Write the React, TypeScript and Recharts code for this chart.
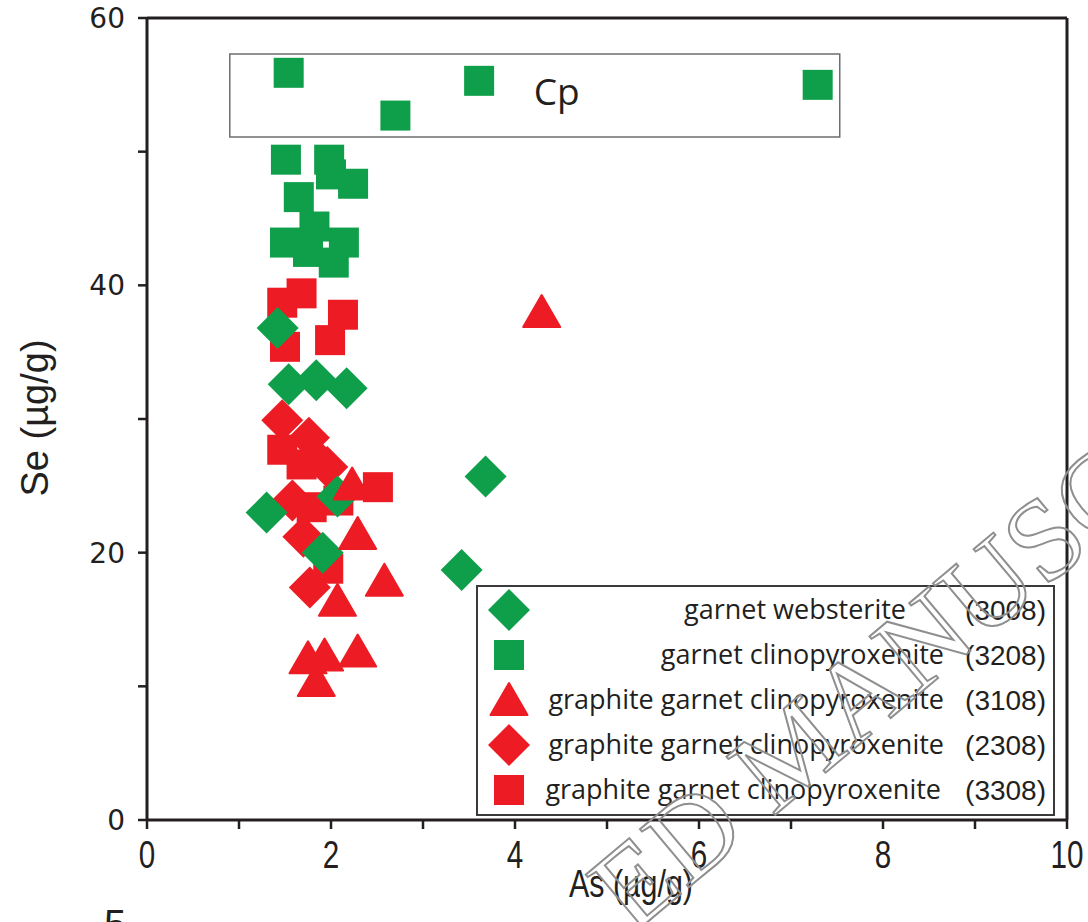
import {
  Legend,
  ReferenceArea,
  ReferenceLine,
  Scatter,
  ScatterChart,
  XAxis,
  YAxis,
} from 'recharts'

// As (µg/g) vs Se (µg/g), one array per sample
const X_TICKS = [0, 1, 2, 3, 4, 5, 6, 7, 8, 9, 10]
const Y_TICKS = [0, 10, 20, 30, 40, 50, 60]

const websterite3008 = [
  { x: 1.42, y: 36.8 },
  { x: 1.54, y: 32.6 },
  { x: 1.84, y: 32.9 },
  { x: 2.17, y: 32.3 },
  { x: 1.3, y: 23.0 },
  { x: 2.07, y: 24.2 },
  { x: 1.91, y: 20.0 },
  { x: 3.68, y: 25.7 },
  { x: 3.42, y: 18.7 },
]

const clinopyroxenite3208 = [
  { x: 1.54, y: 55.9 },
  { x: 2.7, y: 52.7 },
  { x: 3.61, y: 55.3 },
  { x: 7.29, y: 55.0 },
  { x: 1.51, y: 49.4 },
  { x: 1.98, y: 49.4 },
  { x: 2.0, y: 48.3 },
  { x: 2.24, y: 47.6 },
  { x: 1.65, y: 46.6 },
  { x: 1.82, y: 44.4 },
  { x: 1.5, y: 43.2 },
  { x: 1.75, y: 42.5 },
  { x: 2.03, y: 41.7 },
  { x: 2.14, y: 43.2 },
]

const graphite3108 = [
  { x: 4.29, y: 38.0 },
  { x: 2.23, y: 25.1 },
  { x: 2.29, y: 21.4 },
  { x: 2.07, y: 16.4 },
  { x: 2.58, y: 17.9 },
  { x: 1.75, y: 12.1 },
  { x: 1.93, y: 12.3 },
  { x: 2.29, y: 12.6 },
  { x: 1.84, y: 10.4 },
]

const graphite2308 = [
  { x: 1.47, y: 29.9 },
  { x: 1.76, y: 28.6 },
  { x: 1.82, y: 27.2 },
  { x: 1.96, y: 26.4 },
  { x: 1.58, y: 23.9 },
  { x: 1.7, y: 21.2 },
  { x: 1.77, y: 17.4 },
]

const graphite3308 = [
  { x: 1.68, y: 39.4 },
  { x: 1.47, y: 38.7 },
  { x: 2.13, y: 37.8 },
  { x: 1.99, y: 35.9 },
  { x: 1.5, y: 35.4 },
  { x: 1.47, y: 27.7 },
  { x: 1.68, y: 26.6 },
  { x: 2.51, y: 24.9 },
  { x: 1.79, y: 23.4 },
  { x: 2.08, y: 23.9 },
  { x: 1.97, y: 18.8 },
]

const GREEN = '#0f9f4a'
const RED = '#ed1c24'
const INK = '#231f20'

type ShapeKind = 'diamond' | 'square' | 'triangle'

const SERIES: {
  name: string
  code: string
  color: string
  shape: ShapeKind
  data: { x: number; y: number }[]
}[] = [
  { name: 'garnet websterite', code: '(3008)', color: GREEN, shape: 'diamond', data: websterite3008 },
  { name: 'garnet clinopyroxenite', code: '(3208)', color: GREEN, shape: 'square', data: clinopyroxenite3208 },
  { name: 'graphite garnet clinopyroxenite', code: '(3108)', color: RED, shape: 'triangle', data: graphite3108 },
  { name: 'graphite garnet clinopyroxenite', code: '(2308)', color: RED, shape: 'diamond', data: graphite2308 },
  { name: 'graphite garnet clinopyroxenite', code: '(3308)', color: RED, shape: 'square', data: graphite3308 },
]

// paint order in the plot (bottom first)
const DRAW_ORDER = [4, 1, 3, 0, 2]

function Marker({ cx = 0, cy = 0, fill, kind }: { cx?: number; cy?: number; fill: string; kind: ShapeKind }) {
  if (kind === 'square') {
    return <rect x={cx - 15} y={cy - 15} width={30} height={30} fill={fill} />
  }
  if (kind === 'diamond') {
    const r = 21
    return <polygon points={`${cx},${cy - r} ${cx + r},${cy} ${cx},${cy + r} ${cx - r},${cy}`} fill={fill} />
  }
  return (
    <polygon
      points={`${cx},${cy - 17} ${cx + 18.5},${cy + 15} ${cx - 18.5},${cy + 15}`}
      fill={fill}
      stroke={fill}
      strokeLinejoin="round"
      strokeWidth={2}
    />
  )
}

// the source figure is squeezed sideways, so x-axis text is narrowed
function XTick({ x, y, payload }: { x?: number; y?: number; payload?: { value: number } }) {
  if (!payload || payload.value % 2 !== 0) return null
  return (
    <text
      transform={`translate(${x} ${(y ?? 0) + 33}) scale(0.78 1)`}
      textAnchor="middle"
      fontSize={38}
      fontFamily="'Liberation Sans', sans-serif"
      fill={INK}
    >
      {payload.value}
    </text>
  )
}

const LEGEND_ROWS_Y = [25, 70, 115, 160, 205]
const LEGEND_TEXT_END = [430, 468, 468, 468, 465]

function LegendBox() {
  return (
    <svg width={580} height={232} style={{ display: 'block' }}>
      <rect x={1} y={1} width={577} height={229} fill="#fff" stroke="#3a3a3a" strokeWidth={2} />
      {SERIES.map((s, i) => (
        <g key={s.code}>
          <Marker cx={33} cy={LEGEND_ROWS_Y[i]} fill={s.color} kind={s.shape} />
          <text
            x={LEGEND_TEXT_END[i]}
            y={LEGEND_ROWS_Y[i] + 9}
            textAnchor="end"
            fontSize={27}
            fontFamily="'Open Sans', sans-serif"
            fill={INK}
          >
            {s.name}
          </text>
          <text
            x={570}
            y={LEGEND_ROWS_Y[i] + 10}
            textAnchor="end"
            fontSize={28}
            fontFamily="'Liberation Sans', sans-serif"
            fill={INK}
          >
            {s.code}
          </text>
        </g>
      ))}
    </svg>
  )
}

export default function App() {
  return (
    <div style={{ position: 'absolute', left: 0, top: 0, width: 1088, height: 922, background: '#fff' }}>
      <ScatterChart width={1088} height={922} margin={{ top: 18, right: 21, bottom: 0, left: 0 }}>
        <XAxis
          type="number"
          dataKey="x"
          domain={[0, 10]}
          ticks={X_TICKS}
          interval={0}
          height={102}
          tickSize={9}
          tickMargin={6}
          axisLine={{ stroke: INK, strokeWidth: 3 }}
          tickLine={{ stroke: INK, strokeWidth: 2.5 }}
          tick={<XTick />}
          label={() => (
            <text
              transform="translate(631 897) scale(0.8 1)"
              textAnchor="middle"
              fontSize={38}
              fontFamily="'Liberation Sans', sans-serif"
              fill={INK}
            >
              As (µg/g)
            </text>
          )}
        />
        <YAxis
          type="number"
          dataKey="y"
          domain={[0, 60]}
          ticks={Y_TICKS}
          interval={0}
          width={147}
          tickSize={9}
          tickMargin={13}
          axisLine={{ stroke: INK, strokeWidth: 3 }}
          tickLine={{ stroke: INK, strokeWidth: 2.5 }}
          tick={{ fontFamily: "'DejaVu Sans', sans-serif", fontSize: 28, fill: INK }}
          tickFormatter={(v: number) => (v % 20 === 0 ? String(v) : '')}
          label={() => (
            <text
              x={48}
              y={418}
              transform="rotate(-90 48 418)"
              textAnchor="middle"
              fontSize={38}
              fontFamily="'Liberation Sans', sans-serif"
              fill={INK}
            >
              Se (µg/g)
            </text>
          )}
        />
        <ReferenceLine y={60} stroke={INK} strokeWidth={3} />
        <ReferenceLine x={10} stroke={INK} strokeWidth={3} />
        <ReferenceArea
          x1={0.9}
          x2={7.53}
          y1={51.1}
          y2={57.3}
          fill="#fff"
          fillOpacity={1}
          stroke="#6d6e71"
          strokeWidth={1.5}
          label={{
            value: 'Cp',
            position: 'center',
            dx: 22,
            dy: -4,
            fontSize: 37,
            fontFamily: "'Open Sans', sans-serif",
            fill: INK,
          }}
        />
        {DRAW_ORDER.map((i) => {
          const s = SERIES[i]
          return (
            <Scatter
              key={s.code}
              name={s.name}
              data={s.data}
              fill={s.color}
              isAnimationActive={false}
              shape={(p: { cx?: number; cy?: number }) => (
                <Marker cx={p.cx} cy={p.cy} fill={s.color} kind={s.shape} />
              )}
            />
          )
        })}
        <Legend
          layout="vertical"
          align="center"
          verticalAlign="middle"
          wrapperStyle={{ left: 476, top: 585, width: 580, height: 232 }}
          content={() => <LegendBox />}
        />
      </ScatterChart>
      {/* watermark from the source page, drawn over everything */}
      <svg
        width={1088}
        height={922}
        style={{ position: 'absolute', left: 0, top: 0, pointerEvents: 'none' }}
      >
        <text
          x={632}
          y={935}
          transform="rotate(-40 632 935)"
          fontSize={116}
          fontFamily="'Liberation Serif', serif"
          fill="none"
          stroke="#8f8f8f"
          strokeWidth={2}
        >
          ED MANUSCRIPT
        </text>
        <text x={104} y={938} fontSize={40} fontFamily="'Liberation Sans', sans-serif" fill={INK}>
          5
        </text>
      </svg>
    </div>
  )
}
